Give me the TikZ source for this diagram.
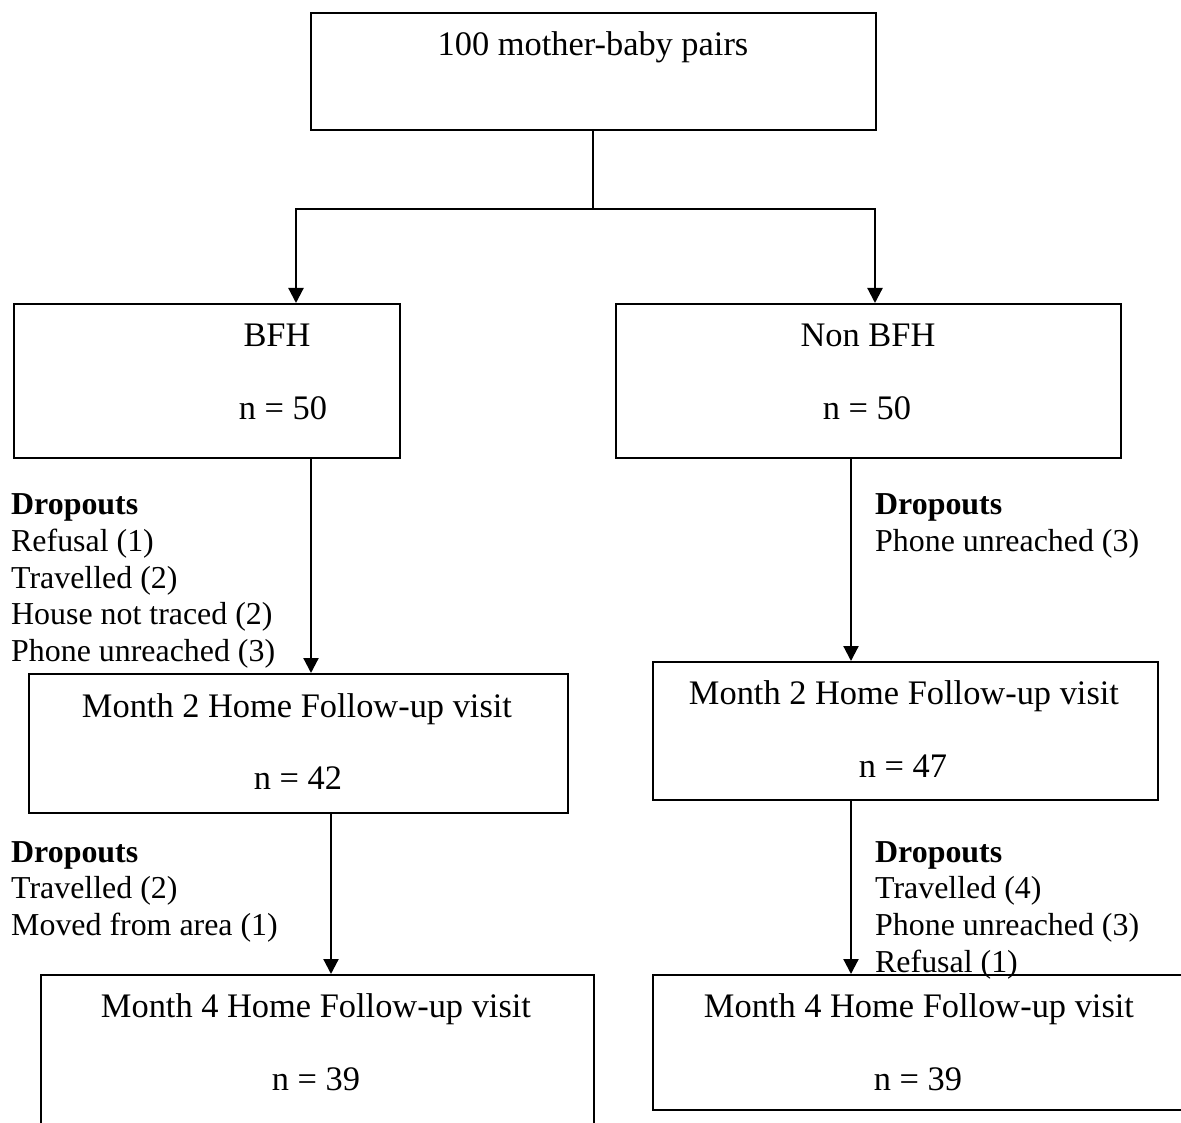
\documentclass[tikz,border=0pt]{standalone}
\usepackage{fontspec}
\setmainfont{Liberation Serif}
\usetikzlibrary{arrows.meta}
\tikzset{
  box/.style={draw=black, line width=2.2pt, rectangle, inner sep=0pt, anchor=north west},
  txt/.style={inner sep=0pt, anchor=base, font=\fontsize{34.4}{36.8}\selectfont},
  ltxt/.style={inner sep=0pt, anchor=base west, font=\fontsize{31.9}{36.8}\selectfont},
  btxt/.style={ltxt, font=\fontsize{31.9}{36.8}\selectfont\bfseries},
  conn/.style={line width=2.2pt, draw=black},
  arr/.style={conn, -{Triangle[width=15pt,length=15pt]}}
}
\begin{document}
\begin{tikzpicture}[x=1pt,y=-1pt]
\useasboundingbox (0,0) rectangle (1181,1123);
\clip (0,0) rectangle (1181,1123);
% boxes
\node[box, minimum width=565pt, minimum height=117pt] (top) at (310,12) {};
\node[box, minimum width=386pt, minimum height=154pt] (bfh) at (13,303) {};
\node[box, minimum width=505pt, minimum height=154pt] (nbfh) at (615,303) {};
\node[box, minimum width=539pt, minimum height=139pt] (lm2) at (28,673) {};
\node[box, minimum width=505pt, minimum height=138pt] (rm2) at (652,661) {};
\node[box, minimum width=553pt, minimum height=180pt] (lm4) at (40,974) {};
\node[box, minimum width=540pt, minimum height=135pt] (rm4) at (652,974) {};
% box texts
\node[txt] (ttop) at (593,56) {100 mother-baby pairs};
\node[txt] (tbfh) at (277,346) {BFH};
\node[txt] (nbfh1) at (283,419) {n = 50};
\node[txt] (tnbfh) at (868,346) {Non BFH};
\node[txt] (nbfh2) at (867,419) {n = 50};
\node[txt] (tlm2) at (297,717) {Month 2 Home Follow-up visit};
\node[txt] (nlm2) at (298,789) {n = 42};
\node[txt] (trm2) at (904,704) {Month 2 Home Follow-up visit};
\node[txt] (nrm2) at (903,777) {n = 47};
\node[txt] (tlm4) at (316,1017) {Month 4 Home Follow-up visit};
\node[txt] (nlm4) at (316,1090) {n = 39};
\node[txt] (trm4) at (919,1017) {Month 4 Home Follow-up visit};
\node[txt] (nrm4) at (918,1090) {n = 39};
% dropouts
\node[btxt] (d1) at (11,514) {Dropouts};
\node[ltxt] (d1a) at (11,551) {Refusal (1)};
\node[ltxt] (d1b) at (11,588) {Travelled (2)};
\node[ltxt] (d1c) at (11,624) {House not traced (2)};
\node[ltxt] (d1d) at (11,661) {Phone unreached (3)};
\node[btxt] (d2) at (875,514) {Dropouts};
\node[ltxt] (d2a) at (875,551) {Phone unreached (3)};
\node[btxt] (d3) at (11,862) {Dropouts};
\node[ltxt] (d3a) at (11,898) {Travelled (2)};
\node[ltxt] (d3b) at (11,935) {Moved from area (1)};
\node[btxt] (d4) at (875,862) {Dropouts};
\node[ltxt] (d4a) at (875,898) {Travelled (4)};
\node[ltxt] (d4b) at (875,935) {Phone unreached (3)};
\node[ltxt] (d4c) at (875,972) {Refusal (1)};
% connectors
\coordinate (split) at (593,209);
\coordinate (la) at (296,209);
\coordinate (ra) at (875,209);
\draw[conn] (top.south -| split) -- (split);
\draw[arr] (split) -- (la) -- (la |- bfh.north);
\draw[arr] (split) -- (ra) -- (ra |- nbfh.north);
\coordinate (x1) at (311,0);
\coordinate (x2) at (851,0);
\coordinate (x3) at (331,0);
\draw[arr] (bfh.south -| x1) -- (lm2.north -| x1);
\draw[arr] (nbfh.south -| x2) -- (rm2.north -| x2);
\draw[arr] (lm2.south -| x3) -- (lm4.north -| x3);
\draw[arr] (rm2.south -| x2) -- (rm4.north -| x2);
\end{tikzpicture}
\end{document}
